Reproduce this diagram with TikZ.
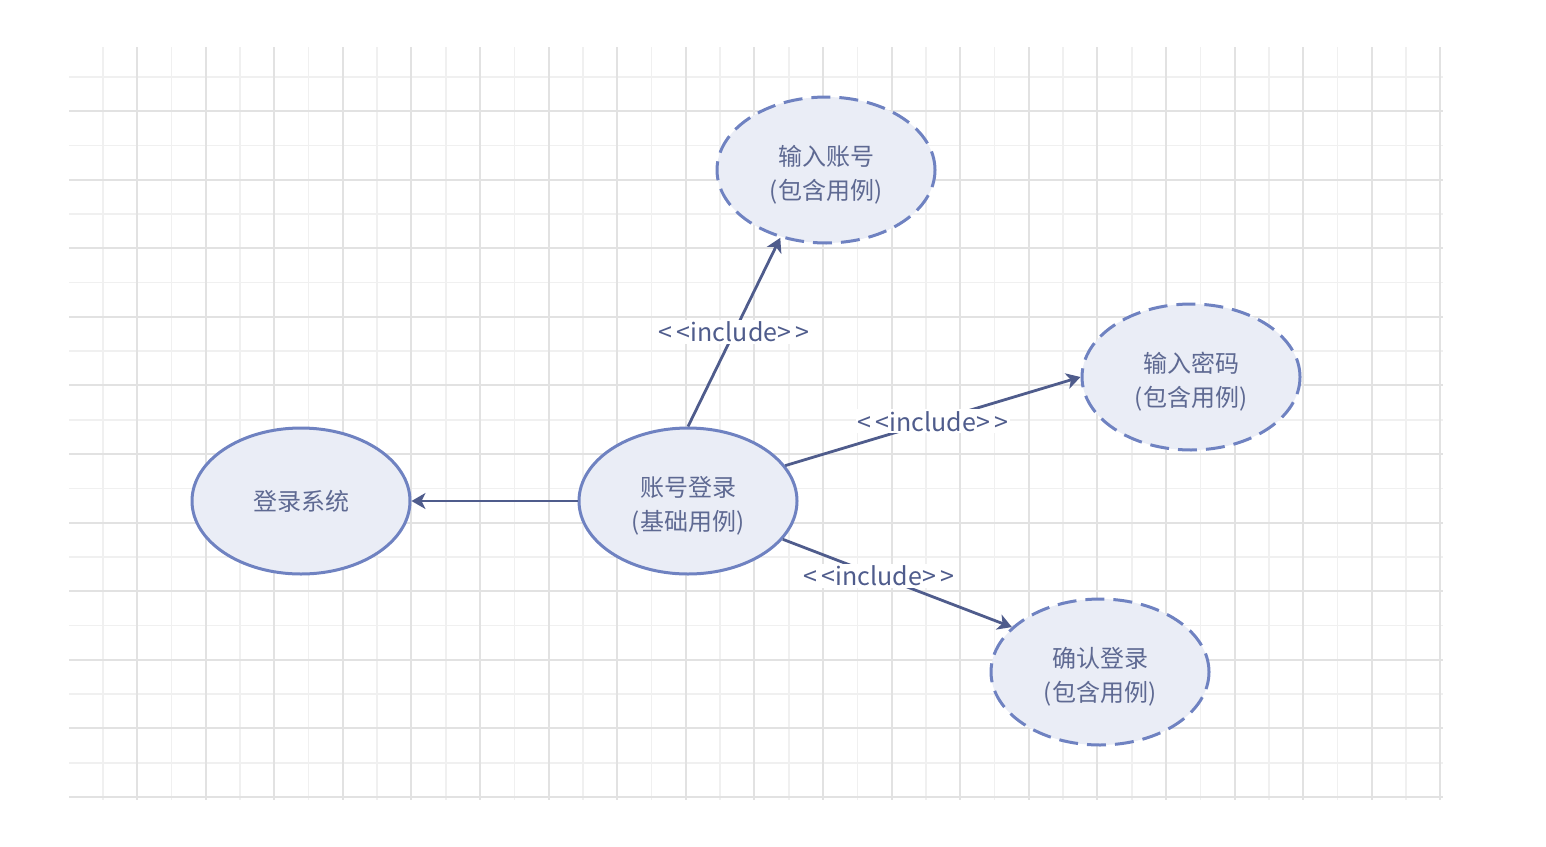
\documentclass[tikz,border=0pt]{standalone}
\usepackage{fontspec}
\setmainfont{Noto Sans CJK SC}
\usepackage{tikz}
\usetikzlibrary{positioning,shapes.geometric,arrows.meta}
\definecolor{CaseLine}{HTML}{6F82C1}
\definecolor{CaseFill}{HTML}{EAEDF6}
\definecolor{CaseText}{HTML}{5E6992}
\definecolor{LinkLine}{HTML}{4F5C8C}
\definecolor{GridMajor}{HTML}{E2E2E2}
\definecolor{GridMinor}{HTML}{F0F0F0}

\begin{document}
\begin{tikzpicture}[x=0.5pt,y=-0.5pt,
  usecase/.style={ellipse,draw=CaseLine,line width=1.5pt,fill=CaseFill,minimum width=109pt,minimum height=73pt,inner sep=0pt,align=center,text=CaseText,font=\fontsize{12}{17}\selectfont},
  twoline/.style={text height=29.2pt,text depth=0pt},
  included/.style={usecase,twoline,dash pattern=on 9.5pt off 4.5pt},
  link/.style={draw=LinkLine,line width=1.4pt,-{Stealth[length=7pt,width=8pt,inset=2pt]}},
  tag/.style={fill=white,inner sep=1pt,text=LinkLine,font=\fontsize{12.5}{14}\selectfont}]
  \useasboundingbox (0,0) rectangle (1546,846);
  % grid
  \foreach \k in {0,...,19} {
    \draw[GridMinor,line width=0.8pt] (102.7+68.6*\k,47) -- (102.7+68.6*\k,800);
  }
  \foreach \k in {0,...,10} {
    \draw[GridMinor,line width=0.8pt] (69,76.7+68.6*\k) -- (1443,76.7+68.6*\k);
  }
  \foreach \k in {0,...,19} {
    \draw[GridMajor,line width=1pt] (137+68.6*\k,47) -- (137+68.6*\k,800);
  }
  \foreach \k in {0,...,10} {
    \draw[GridMajor,line width=1pt] (69,111+68.6*\k) -- (1443,111+68.6*\k);
  }
  % use cases
  \node[usecase,twoline] (acct) at (688,501) {账号登录\\(基础用例)};
  \node[usecase] (sys) [left of=acct,node distance=193.5pt] {登录系统};
  \node[included] (inAcct) [above of=acct,node distance=165.5pt,xshift=69pt] {输入账号\\(包含用例)};
  \node[included] (inPwd) [above of=acct,node distance=62pt,xshift=251.5pt] {输入密码\\(包含用例)};
  \node[included] (confirm) [below of=acct,node distance=85.5pt,xshift=206pt] {确认登录\\(包含用例)};
  % links
  \draw[link] (acct) -- (sys);
  \draw[link] (acct.north) -- node[tag] {<\,<include>\,>} (inAcct.236);
  \draw[link] (acct.20) -- node[tag] {<\,<include>\,>} (inPwd.west);
  \draw[link] (acct.338) -- node[tag,pos=0.42] {<\,<include>\,>} (confirm.153);
\end{tikzpicture}
\end{document}
